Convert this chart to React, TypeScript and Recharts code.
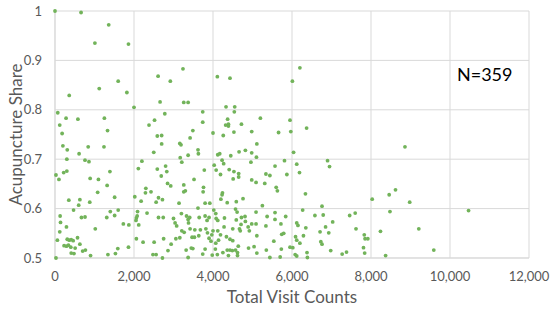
import React from "react";
import { ScatterChart, Scatter, XAxis, YAxis, CartesianGrid } from "recharts";

// total visit counts per clinic
const visitCounts = [
  0, 660, 1360, 1010, 1860, 1600, 1120, 1820, 360, 2000, 70, 280, 580, 1250, 120, 1330, 180,
  3240, 2610, 2920, 4110, 2660, 3260, 3370, 2780, 3740, 2520, 2380, 3740, 3490, 4000,
  4430, 6200, 6010, 4330, 4550, 4540, 4370, 5200, 5950, 4320, 4390, 4390, 4720, 4530, 4980, 5660, 5970, 4260,
  6370,
  200, 310, 840, 1240, 610, 300, 760, 860, 25, 100, 220, 300, 1390, 890, 1100, 1320, 1080, 1510, 350, 630,
  600, 880, 470, 1400, 1600, 1510, 130, 670, 760, 1310, 140, 290, 1730, 1870, 120, 1020, 570, 60, 310, 360,
  410, 460, 230, 290, 340, 400, 510, 630, 700, 770, 1590, 1860, 410, 480, 900, 1340, 1530, 25,
  2590, 2700, 3420, 3160, 3190, 2700, 2500, 3620, 3630, 3370, 3170, 3210, 4120, 2200, 2800, 2110, 2590, 2830,
  4030, 4080, 2690, 3780, 3520, 2850, 2930, 3260, 3300, 3260, 3760, 3750, 2300, 2290, 2430, 2020, 2620, 2720,
  2180, 2560, 3140, 3800, 3920, 3620, 2090, 2080, 2060, 2050, 2330, 2620, 2740, 3000, 3040, 3200, 3330, 3370,
  3410, 3650, 3800, 3900, 4020, 4070, 3850, 4080, 4120, 2120, 3080, 3380, 3420, 3210, 3270, 3540, 3680, 3820,
  3860, 3970, 4000, 4120, 2060, 2230, 2510, 2750, 3060, 3160, 3470, 3530, 3640, 3900, 3950, 4070, 4140, 2940,
  3450, 3490, 3320, 2860, 3800, 4060, 2480, 2560, 3740, 3980, 4110, 2720, 3370,
  5110, 4170, 4450, 4660, 4820, 4980, 4960, 5100, 6040, 4230, 4270, 5810, 5570, 6120, 4190, 4410, 4530, 4650,
  4650, 4510, 4980, 5090, 5340, 5440, 5870, 5310, 5600, 5630, 6190, 4240, 4230, 4200, 4360, 4590, 4760, 5250,
  4570, 4610, 5090, 5570, 6270, 4810, 4720, 4590, 5370, 5840, 5570, 4290, 4820, 4710, 4890, 4980, 5090, 5340,
  5720, 6120, 6150, 4500, 4690, 4670, 4280, 4190, 4920, 5110, 4340, 4430, 4500, 5740, 5790, 5540, 6090, 6120,
  4640, 4900, 5040, 5950, 6020, 6200, 4360, 4430, 4490, 4570, 5730, 4250, 4390, 4620, 4620, 5110, 5350, 6080,
  6120, 5440, 5700,
  8860, 6900, 6950, 6340, 8620, 8460, 8030, 8980, 6760, 6580, 6790, 7460, 7600, 8480, 7030, 6850, 6350, 7620,
  6710, 6930, 8240, 9210, 6290, 7830, 7850, 7920, 6730, 6760, 7810, 6980, 6380, 7380, 7270, 7840, 8370, 6390,
  10470, 9590,
];

// acupuncture share, same order
const acupunctureShare = [
  1.0, 0.997, 0.972, 0.935, 0.933, 0.858, 0.843, 0.835, 0.829, 0.805, 0.794, 0.783, 0.781, 0.783, 0.769, 0.758, 0.752,
  0.883, 0.868, 0.858, 0.867, 0.816, 0.815, 0.815, 0.792, 0.796, 0.779, 0.769, 0.775, 0.758, 0.753,
  0.864, 0.885, 0.858, 0.806, 0.806, 0.796, 0.781, 0.783, 0.779, 0.769, 0.771, 0.767, 0.771, 0.755, 0.756, 0.754, 0.756, 0.748,
  0.763,
  0.727, 0.719, 0.725, 0.725, 0.711, 0.7, 0.698, 0.695, 0.668, 0.659, 0.673, 0.676, 0.675, 0.661, 0.659, 0.647, 0.633, 0.623, 0.617, 0.618,
  0.607, 0.613, 0.597, 0.594, 0.597, 0.586, 0.585, 0.582, 0.583, 0.582, 0.572, 0.563, 0.569, 0.567, 0.553, 0.559, 0.541, 0.536, 0.538, 0.536,
  0.537, 0.535, 0.525, 0.524, 0.526, 0.522, 0.52, 0.528, 0.514, 0.516, 0.519, 0.522, 0.51, 0.509, 0.505, 0.507, 0.509, 0.5,
  0.747, 0.748, 0.743, 0.732, 0.729, 0.731, 0.714, 0.719, 0.711, 0.708, 0.703, 0.694, 0.709, 0.696, 0.686, 0.681, 0.68, 0.675,
  0.688, 0.678, 0.666, 0.678, 0.659, 0.651, 0.646, 0.648, 0.636, 0.634, 0.643, 0.634, 0.641, 0.632, 0.634, 0.624, 0.622, 0.618,
  0.615, 0.613, 0.611, 0.611, 0.611, 0.601, 0.594, 0.585, 0.581, 0.576, 0.591, 0.582, 0.582, 0.58, 0.571, 0.59, 0.585, 0.578,
  0.582, 0.582, 0.585, 0.582, 0.597, 0.59, 0.576, 0.58, 0.576, 0.567, 0.565, 0.571, 0.559, 0.555, 0.552, 0.557, 0.557, 0.559,
  0.551, 0.547, 0.555, 0.555, 0.539, 0.532, 0.532, 0.539, 0.539, 0.541, 0.542, 0.542, 0.545, 0.54, 0.534, 0.53, 0.536, 0.528,
  0.52, 0.519, 0.516, 0.515, 0.518, 0.518, 0.507, 0.507, 0.508, 0.506, 0.507, 0.5, 0.501,
  0.731, 0.711, 0.707, 0.715, 0.718, 0.713, 0.694, 0.704, 0.714, 0.698, 0.691, 0.697, 0.686, 0.69, 0.669, 0.679, 0.675, 0.671,
  0.664, 0.66, 0.658, 0.653, 0.67, 0.667, 0.669, 0.651, 0.643, 0.636, 0.673, 0.632, 0.628, 0.619, 0.612, 0.614, 0.62, 0.606,
  0.599, 0.593, 0.593, 0.592, 0.597, 0.584, 0.582, 0.577, 0.584, 0.584, 0.578, 0.581, 0.574, 0.568, 0.563, 0.569, 0.569, 0.565,
  0.569, 0.571, 0.566, 0.559, 0.555, 0.559, 0.563, 0.547, 0.555, 0.545, 0.543, 0.538, 0.535, 0.548, 0.55, 0.534, 0.543, 0.536,
  0.524, 0.52, 0.523, 0.522, 0.521, 0.53, 0.516, 0.516, 0.515, 0.516, 0.518, 0.511, 0.505, 0.505, 0.511, 0.51, 0.516, 0.507,
  0.504, 0.501, 0.502,
  0.725, 0.697, 0.685, 0.63, 0.638, 0.628, 0.619, 0.613, 0.605, 0.586, 0.587, 0.586, 0.591, 0.594, 0.573, 0.563, 0.561, 0.559,
  0.553, 0.551, 0.554, 0.559, 0.545, 0.547, 0.539, 0.539, 0.533, 0.528, 0.521, 0.515, 0.511, 0.512, 0.508, 0.51, 0.505, 0.501,
  0.596, 0.516,
];

const xTicks = [0, 2000, 4000, 6000, 8000, 10000, 12000];
const yTicks = [0.5, 0.6, 0.7, 0.8, 0.9, 1];

const data = visitCounts.map((v, i) => ({ visits: v, share: acupunctureShare[i] }));

const FONT = "Lato, 'Open Sans', sans-serif";
const GRID = "#d9d9d9";
const TEXT = "#595959";

const Dot = (props: any) => <circle cx={props.cx} cy={props.cy} r={1.9} fill="#72B35A" />;

export default function App() {
  return (
    <div style={{ position: "absolute", left: 0, top: 0, width: 550, height: 310, background: "#fff" }}>
      <ScatterChart width={550} height={310} margin={{ top: 11, right: 21, bottom: 0, left: 0 }}>
        <CartesianGrid stroke={GRID} />
        <XAxis
          type="number"
          dataKey="visits"
          domain={[0, 12000]}
          ticks={xTicks}
          height={52}
          tickLine={false}
          axisLine={{ stroke: GRID }}
          tickMargin={8}
          tick={{ fill: TEXT, fontSize: 13, fontFamily: FONT }}
          tickFormatter={(v: number) => v.toLocaleString("en-US")}
          label={{
            value: "Total Visit Counts",
            position: "insideBottom",
            offset: 7,
            fill: TEXT,
            fontSize: 17,
            fontFamily: FONT,
          }}
        />
        <YAxis
          type="number"
          dataKey="share"
          domain={[0.5, 1]}
          ticks={yTicks}
          width={55}
          tickLine={false}
          axisLine={{ stroke: GRID }}
          tickMargin={7}
          tick={{ fill: TEXT, fontSize: 13, fontFamily: FONT }}
          tickFormatter={(v: number) => String(Math.round(v * 10) / 10)}
          label={{
            value: "Acupuncture Share",
            angle: -90,
            position: "insideLeft",
            offset: 16,
            fill: TEXT,
            fontSize: 17,
            fontFamily: FONT,
            style: { textAnchor: "middle" },
          }}
        />
        <Scatter data={data} shape={Dot} isAnimationActive={false} />
      </ScatterChart>
      <div
        style={{
          position: "absolute",
          left: 457,
          top: 63,
          fontSize: 18,
          fontFamily: FONT,
          color: "#000",
        }}
      >
        N=359
      </div>
    </div>
  );
}
